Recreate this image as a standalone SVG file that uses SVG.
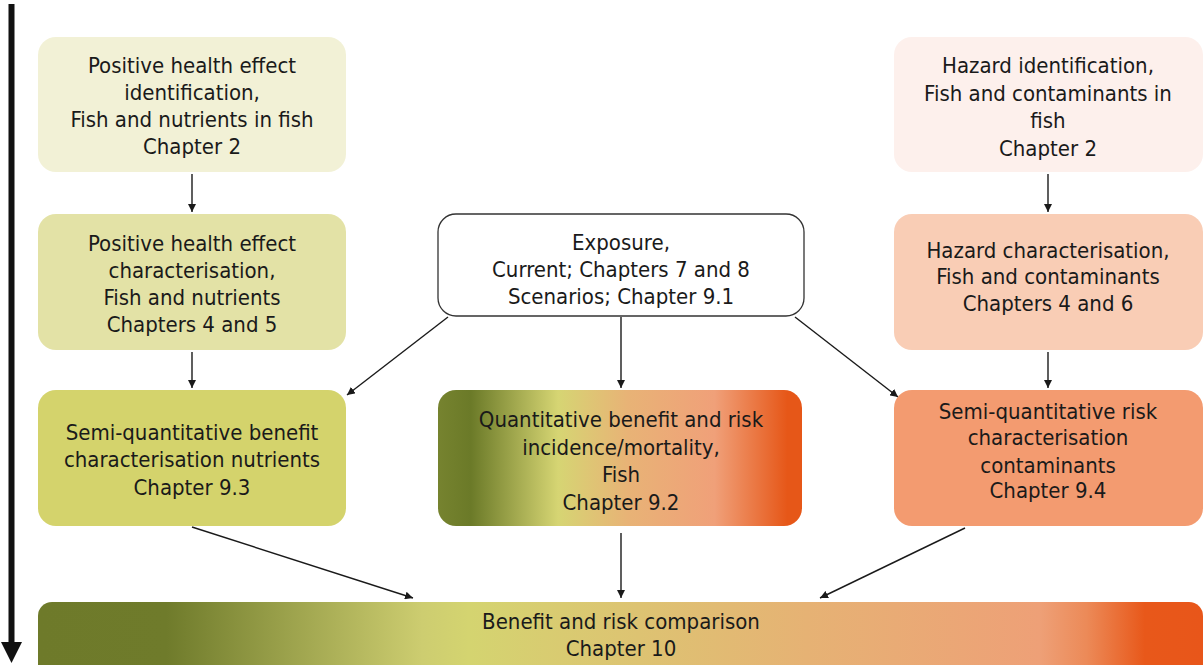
<svg xmlns="http://www.w3.org/2000/svg" width="1203" height="665" viewBox="0 0 1203 665">
<style>
text{font-family:"DejaVu Sans Condensed","DejaVu Sans",Tahoma,sans-serif;font-size:22px;fill:#1a1a1a;text-anchor:middle}
.c{stroke:#1a1a1a;stroke-width:1.4;fill:none;marker-end:url(#ah)}
</style>
<defs>
<marker id="ah" viewBox="0 0 10 10" refX="10" refY="5" markerWidth="8" markerHeight="8" markerUnits="userSpaceOnUse" orient="auto">
<path d="M0,0 L10,5 L0,10 z" fill="#1a1a1a"/>
</marker>
<linearGradient id="gm" x1="0" y1="0" x2="1" y2="0">
<stop offset="0" stop-color="#76832f"/>
<stop offset="0.09" stop-color="#6b7a28"/>
<stop offset="0.33" stop-color="#d6d573"/>
<stop offset="0.52" stop-color="#e8b376"/>
<stop offset="0.76" stop-color="#f0a079"/>
<stop offset="0.96" stop-color="#e65718"/>
<stop offset="1" stop-color="#e65718"/>
</linearGradient>
<linearGradient id="gb" x1="0" y1="0" x2="1" y2="0">
<stop offset="0" stop-color="#6e7a2a"/>
<stop offset="0.11" stop-color="#6f7b2b"/>
<stop offset="0.33" stop-color="#cdcd70"/>
<stop offset="0.37" stop-color="#d4d470"/>
<stop offset="0.66" stop-color="#e6b274"/>
<stop offset="0.86" stop-color="#eea077"/>
<stop offset="0.9" stop-color="#ec8a58"/>
<stop offset="0.95" stop-color="#e8581a"/>
<stop offset="1" stop-color="#e8561a"/>
</linearGradient>
</defs>

<g id="timeline">
<line x1="11.5" y1="4" x2="11.5" y2="643" stroke="#111" stroke-width="6"/>
<polygon points="1,642 22,642 11.5,663" fill="#111"/>
</g>

<g id="connectors">
<line class="c" x1="192" y1="174" x2="192" y2="212"/>
<line class="c" x1="192" y1="352" x2="192" y2="388"/>
<line class="c" x1="1048" y1="174" x2="1048" y2="212"/>
<line class="c" x1="1048" y1="352" x2="1048" y2="388"/>
<line class="c" x1="448" y1="317" x2="347" y2="395"/>
<line class="c" x1="621" y1="317" x2="621" y2="388"/>
<line class="c" x1="795" y1="317" x2="898" y2="397"/>
<line class="c" x1="192" y1="527" x2="413" y2="598"/>
<line class="c" x1="621" y1="533" x2="621" y2="598"/>
<line class="c" x1="965" y1="528" x2="820" y2="598"/>
</g>

<g id="n1">
<rect x="38" y="37" width="308" height="135" rx="18" fill="#f2f1d6"/>
<text x="192" y="73">Positive health effect</text>
<text x="192" y="100">identification,</text>
<text x="192" y="127">Fish and nutrients in fish</text>
<text x="192" y="154">Chapter 2</text>
</g>

<g id="n2">
<rect x="38" y="214" width="308" height="136" rx="18" fill="#e3e2a6"/>
<text x="192" y="251">Positive health effect</text>
<text x="192" y="278">characterisation,</text>
<text x="192" y="305">Fish and nutrients</text>
<text x="192" y="332">Chapters 4 and 5</text>
</g>

<g id="n3">
<rect x="38" y="390" width="308" height="136" rx="18" fill="#d4d36c"/>
<text x="192" y="440">Semi-quantitative benefit</text>
<text x="192" y="467">characterisation nutrients</text>
<text x="192" y="495">Chapter 9.3</text>
</g>

<g id="exposure">
<rect x="438" y="214" width="366" height="102" rx="18" fill="#fff" stroke="#333" stroke-width="1.3"/>
<text x="621" y="250">Exposure,</text>
<text x="621" y="277">Current; Chapters 7 and 8</text>
<text x="621" y="304">Scenarios; Chapter 9.1</text>
</g>

<g id="quant">
<rect x="438" y="390" width="364" height="136" rx="18" fill="url(#gm)"/>
<text x="621" y="427">Quantitative benefit and risk</text>
<text x="621" y="455">incidence/mortality,</text>
<text x="621" y="482">Fish</text>
<text x="621" y="510">Chapter 9.2</text>
</g>

<g id="r1">
<rect x="894" y="37" width="309" height="135" rx="18" fill="#fdf0ec"/>
<text x="1048" y="73">Hazard identification,</text>
<text x="1048" y="101">Fish and contaminants in</text>
<text x="1048" y="128">fish</text>
<text x="1048" y="156">Chapter 2</text>
</g>

<g id="r2">
<rect x="894" y="214" width="309" height="136" rx="18" fill="#f9cdb5"/>
<text x="1048" y="258">Hazard characterisation,</text>
<text x="1048" y="284">Fish and contaminants</text>
<text x="1048" y="311">Chapters 4 and 6</text>
</g>

<g id="r3">
<rect x="894" y="390" width="309" height="136" rx="18" fill="#f39b70"/>
<text x="1048" y="419">Semi-quantitative risk</text>
<text x="1048" y="445">characterisation</text>
<text x="1048" y="473">contaminants</text>
<text x="1048" y="498">Chapter 9.4</text>
</g>

<g id="comparison">
<rect x="38" y="602" width="1165" height="80" rx="14" fill="url(#gb)"/>
<text x="621" y="629">Benefit and risk comparison</text>
<text x="621" y="656">Chapter 10</text>
</g>
</svg>
